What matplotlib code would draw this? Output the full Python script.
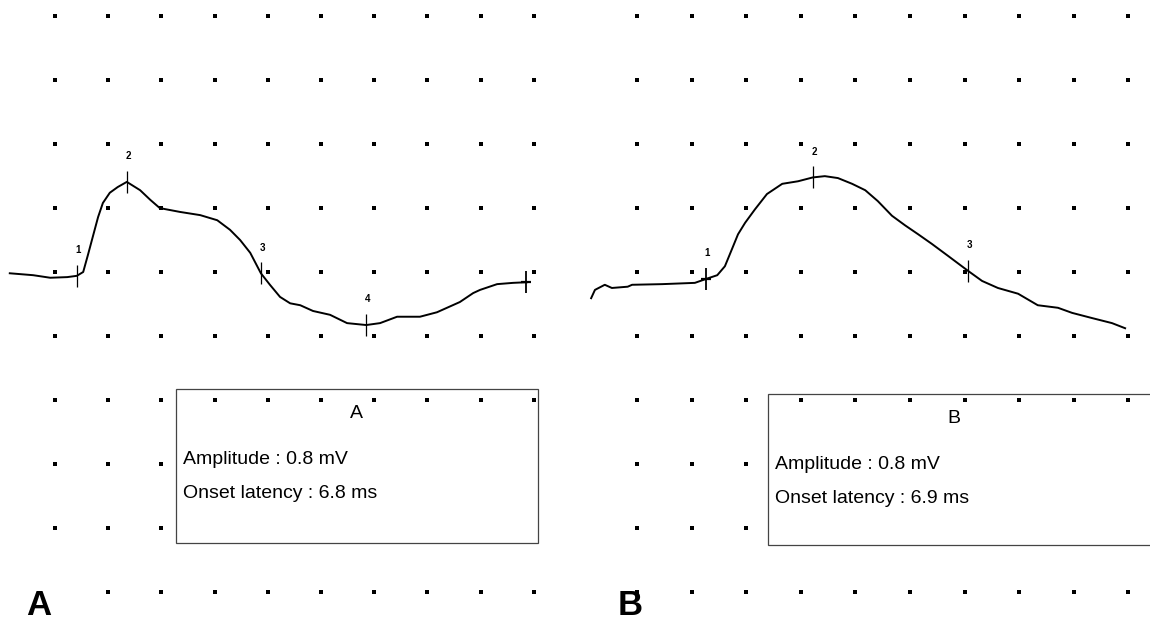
import numpy as np
import matplotlib.pyplot as plt
from matplotlib.patches import Rectangle

plt.rcParams['font.family'] = ['Liberation Sans', 'DejaVu Sans']

# traces in grid divisions (x: time div, y: amplitude div, baseline = 0)
a_x = [-0.85, -0.41, -0.09, 0.23, 0.41, 0.53, 0.62, 0.71, 0.81, 0.90, 1.03, 1.18,
       1.35, 1.60, 1.79, 1.97, 2.35, 2.73, 3.05, 3.29, 3.48, 3.67, 3.87, 4.04,
       4.23, 4.42, 4.61, 4.85, 5.17, 5.49, 5.85, 6.11, 6.43, 6.86, 7.18, 7.61,
       7.86, 7.99, 8.31, 8.61, 8.87]
a_y = [-0.02, -0.05, -0.09, -0.08, -0.06, 0.00, 0.27, 0.55, 0.86, 1.08, 1.24, 1.33,
       1.41, 1.28, 1.13, 1.00, 0.94, 0.89, 0.81, 0.66, 0.50, 0.30, -0.02, -0.20,
       -0.39, -0.49, -0.52, -0.61, -0.67, -0.80, -0.83, -0.80, -0.70, -0.70, -0.63, -0.47,
       -0.33, -0.28, -0.19, -0.17, -0.16]

b_x = [-0.84, -0.77, -0.59, -0.46, -0.17, -0.09, 0.46, 1.06, 1.26, 1.47, 1.61, 1.74,
       1.85, 1.98, 2.16, 2.38, 2.66, 2.95, 3.22, 3.44, 3.68, 3.94, 4.18, 4.41,
       4.67, 4.91, 5.15, 5.40, 5.70, 5.95, 6.06, 6.32, 6.61, 6.98, 7.34, 7.71,
       7.97, 8.33, 8.70, 8.94]
b_y = [-0.41, -0.28, -0.20, -0.25, -0.23, -0.20, -0.19, -0.17, -0.11, -0.05, 0.09, 0.36,
       0.59, 0.77, 0.98, 1.22, 1.38, 1.42, 1.48, 1.50, 1.47, 1.38, 1.28, 1.11,
       0.88, 0.73, 0.59, 0.44, 0.25, 0.09, 0.02, -0.14, -0.25, -0.34, -0.52, -0.56,
       -0.64, -0.72, -0.80, -0.88]

# cursor markers: position, label, style
a_mk_x = [0.41, 1.35, 3.87, 5.84, 8.86]
a_mk_y = [-0.06, 1.41, -0.02, -0.83, -0.16]
a_mk_lab = ['1', '2', '3', '4', '']
a_mk_plus = [False, False, False, False, True]

b_mk_x = [1.26, 3.22, 6.06]
b_mk_y = [-0.11, 1.48, 0.02]
b_mk_lab = ['1', '2', '3']
b_mk_plus = [True, False, False]

grid_cols = list(range(10))
grid_rows = [4, 3, 2, 1, 0, -1, -2, -3, -4, -5]

fig = plt.figure(figsize=(11.5, 6.24), dpi=100)

# pixel layout of each panel
W, H = 1150, 624
y0_px, row_px = 272, 63.9


def make_ax(left, right, x0, dx):
    ax = fig.add_axes([left / W, 0, (right - left) / W, 1])
    ax.set_xlim((left - x0) / dx, (right - x0) / dx)
    ax.set_ylim((y0_px - H) / row_px, y0_px / row_px)
    ax.set_axis_off()
    return ax


def draw_panel(ax, tx, ty, mx, my, mlab, mplus, box, box_title, amp, lat, panel, skip):
    # dotted grid
    gx, gy = [], []
    for r in grid_rows:
        for c in grid_cols:
            if (c, r) in skip:
                continue
            gx.append(c)
            gy.append(r)
    ax.plot(gx, gy, ls='none', marker='s', ms=2.4, mew=0, color='black', zorder=1)

    # info box (covers grid dots under it, top row stays visible)
    bx0, by0, bx1, by1 = box
    ax.add_patch(Rectangle((bx0, by1), bx1 - bx0, by0 - by1, facecolor='white',
                           edgecolor='#444444', lw=0.9, zorder=2, clip_on=False))
    top = [c for c in grid_cols if bx0 < c < bx1]
    ax.plot(top, [-2] * len(top), ls='none', marker='s', ms=2.4, mew=0,
            color='black', zorder=3)
    ax.text((bx0 + min(bx1, 9.2)) / 2, by0 - 0.38, box_title, fontsize=14,
            ha='center', va='center', zorder=4)
    ax.text(bx0 + 0.13, by0 - 1.11, amp, fontsize=14, ha='left', va='center', zorder=4)
    ax.text(bx0 + 0.13, by0 - 1.64, lat, fontsize=14, ha='left', va='center', zorder=4)

    # trace
    ax.plot(tx, ty, color='black', lw=1.4, zorder=5)

    # cursors
    for x, y, lab, plus in zip(mx, my, mlab, mplus):
        ax.plot([x], [y], marker='|', ms=16, mew=1.3 if plus else 0.9,
                color='black', zorder=6)
        if plus:
            ax.plot([x], [y], marker='_', ms=7, mew=1.6, color='black', zorder=6)
        if lab:
            ax.text(x + 0.03, y + 0.40, lab, fontsize=7, fontweight='bold',
                    ha='center', va='center', zorder=6)

    ax.text(-0.30 if panel == 'A' else -0.13, -5.22, panel, fontsize=25,
            fontweight='bold', ha='center', va='center', zorder=6)


ax_a = make_ax(0, 560, 55, 53.2)
ax_b = make_ax(560, 1150, 637, 54.6)

skip_a = {(0, -5)} | {(c, r) for c in range(3, 10) for r in (-3, -4)}
skip_b = {(c, r) for c in range(3, 10) for r in (-3, -4)}

draw_panel(ax_a, a_x, a_y, a_mk_x, a_mk_y, a_mk_lab, a_mk_plus,
           (2.27, -1.83, 9.08, -4.24), 'A',
           'Amplitude : 0.8 mV', 'Onset latency : 6.8 ms', 'A', skip_a)
draw_panel(ax_b, b_x, b_y, b_mk_x, b_mk_y, b_mk_lab, b_mk_plus,
           (2.40, -1.91, 9.6, -4.27), 'B',
           'Amplitude : 0.8 mV', 'Onset latency : 6.9 ms', 'B', skip_b)

fig.savefig('out.png', dpi=100, facecolor='white')
